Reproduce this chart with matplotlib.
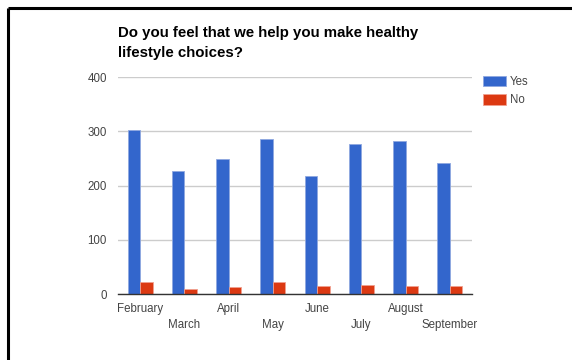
import matplotlib
matplotlib.use("Agg")
import matplotlib.pyplot as plt
import numpy as np
from matplotlib.lines import Line2D

months = ["February", "March", "April", "May", "June", "July", "August", "September"]
yes_vals = [302, 227, 249, 286, 218, 276, 282, 242]
no_vals = [23, 9, 13, 23, 15, 18, 15, 16]
yticks = [0, 100, 200, 300, 400]
title = "Do you feel that we help you make healthy\nlifestyle choices?"

plt.rcParams['font.family'] = ['Liberation Sans', 'DejaVu Sans']

W, H = 572, 360
fig = plt.figure(figsize=(W / 100, H / 100), dpi=100)
ax = fig.add_axes([118 / W, 1 - 294.3 / H, (472 - 118) / W, (294.3 - 77) / H])

x = np.arange(len(months))
bw = 0.285
ax.bar(x - bw / 2, yes_vals, width=bw, color="#3366CC", edgecolor="#8FA8E0", linewidth=0.6, label="Yes", zorder=3)
ax.bar(x + bw / 2, no_vals, width=bw, color="#DC3912", edgecolor="#F0A090", linewidth=0.6, label="No", zorder=3)

ax.set_xlim(-0.5, len(months) - 0.5)
ax.set_ylim(0, 400)
ax.set_yticks(yticks)
ax.set_yticklabels([str(v) for v in yticks])
ax.yaxis.grid(True, color="#CCCCCC", linewidth=1)
ax.set_axisbelow(True)
for s in ["top", "right", "left"]:
    ax.spines[s].set_visible(False)
ax.spines["bottom"].set_color("#333333")
ax.spines["bottom"].set_linewidth(1)
ax.spines["bottom"].set_zorder(4)

ax.set_xticks(x)
ax.set_xticklabels(months)
ax.tick_params(axis="x", length=0, labelsize=8.3, colors="#444444", pad=6)
ax.tick_params(axis="y", length=0, labelsize=8.3, colors="#444444", pad=8)
for i, t in enumerate(ax.xaxis.get_major_ticks()):
    if i % 2 == 1:
        t.set_pad(17.5)

fig.text(118.5 / W, 1 - 26.5 / H, title, ha="left", va="top", fontsize=10.8,
         fontweight="bold", color="#000000", linespacing=1.5)

leg = ax.legend(loc="upper left", bbox_to_anchor=(483 / W, 1 - 75.5 / H),
                bbox_transform=fig.transFigure, frameon=False, fontsize=8.3,
                handlelength=2.0, handleheight=1.05, handletextpad=0.35,
                labelspacing=0.55, borderaxespad=0, borderpad=0)
for t in leg.get_texts():
    t.set_color("#444444")

# image border (top and left)
fig.add_artist(Line2D([7.5 / W, 1], [1 - 7.5 / H, 1 - 7.5 / H], transform=fig.transFigure,
                      color="black", linewidth=2.2, solid_capstyle="butt"))
fig.add_artist(Line2D([7.5 / W, 7.5 / W], [1 - 7.5 / H, 0], transform=fig.transFigure,
                      color="black", linewidth=2.2, solid_capstyle="butt"))

fig.savefig("out.png", dpi=100)
